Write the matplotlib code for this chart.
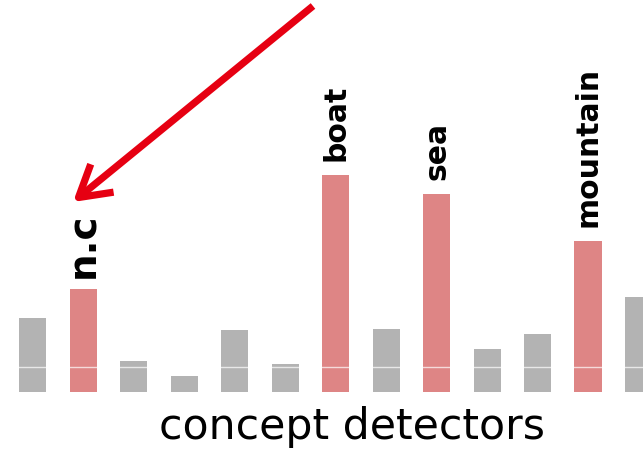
import matplotlib
matplotlib.use("Agg")
import matplotlib.pyplot as plt

# bar scores of the concept detectors
scores = [74, 103, 31, 16, 62, 28, 217, 63, 198, 43, 58, 151, 95]
highlight = [1, 6, 8, 11]
names = {1: "n.c", 6: "boat", 8: "sea", 11: "mountain"}
name_sizes = {1: 28, 6: 21.5, 8: 21.5, 11: 21.5}

gray = "#b3b3b3"
red = "#de8585"

fig = plt.figure(figsize=(6.43, 4.5), dpi=100)
ax = fig.add_axes([0, 0, 1, 1])
ax.set_xlim(-0.644, 12.089)
ax.set_ylim(-58, 392)
ax.axis("off")

x = list(range(len(scores)))
cols = [red if i in highlight else gray for i in x]
ax.bar(x, scores, width=0.535, color=cols, zorder=1)
ax.axhline(25, color="white", lw=1, alpha=0.7, zorder=2)

for i, name in names.items():
    off = 8 if i == 1 else 10
    ax.annotate(name, (i, scores[i]), xytext=(0, off), textcoords="offset points",
                rotation=90, ha="center", va="bottom", fontsize=name_sizes[i],
                fontweight="bold")

fig.text(352 / 643, 1 - 427 / 450, "concept detectors", ha="center", va="center",
         fontsize=30.7)

ax.annotate("", xy=(73, 450 - 202), xycoords="figure pixels",
            xytext=(313, 450 - 6), textcoords="figure pixels",
            arrowprops=dict(arrowstyle="->,head_length=2.2,head_width=1.3",
                            color="#e60012", lw=5.2, capstyle="butt",
                            joinstyle="round", shrinkA=0, shrinkB=0))

fig.savefig("out.png", dpi=100)
